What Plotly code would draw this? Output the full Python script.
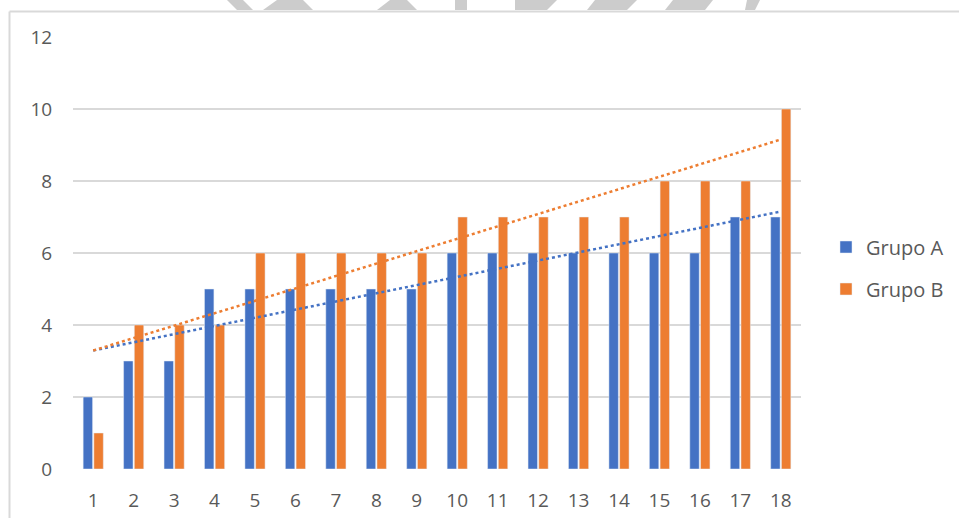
import numpy as np
import plotly.graph_objects as go

categories = list(range(1, 19))
grupo_a = [2, 3, 3, 5, 5, 5, 5, 5, 5, 6, 6, 6, 6, 6, 6, 6, 7, 7]
grupo_b = [1, 4, 4, 4, 6, 6, 6, 6, 6, 7, 7, 7, 7, 7, 8, 8, 8, 10]
y_ticks = [0, 2, 4, 6, 8, 10, 12]

BLUE = "#4472C4"
ORANGE = "#ED7D31"
GRID = "#d9d9d9"
TXT = "#595959"

x = np.array(categories, dtype=float)

fig = go.Figure()
fig.add_trace(go.Bar(x=categories, y=grupo_a, name="Grupo A", marker_color=BLUE,
                     legendgroup="a"))
fig.add_trace(go.Bar(x=categories, y=grupo_b, name="Grupo B", marker_color=ORANGE,
                     legendgroup="b"))

for vals, col in ((grupo_a, BLUE), (grupo_b, ORANGE)):
    m, c = np.polyfit(x, np.array(vals, dtype=float), 1)
    fig.add_trace(go.Scatter(x=[x[0], x[-1]], y=[m * x[0] + c, m * x[-1] + c],
                             mode="lines", line=dict(color=col, width=2.5, dash="dot"),
                             showlegend=False, hoverinfo="skip"))

W, H = 959, 518
L, R, T, B = 73, 801, 37, 469


def px(v):
    return (v - L) / (R - L)


def py(v):
    return (B - v) / (B - T)


shapes = []
# chart frame (left and top borders)
shapes.append(dict(type="line", xref="paper", yref="paper", x0=px(9.5), x1=px(965),
                   y0=py(11.5), y1=py(11.5), line=dict(color=GRID, width=2)))
shapes.append(dict(type="line", xref="paper", yref="paper", x0=px(9.5), x1=px(9.5),
                   y0=py(11.5), y1=py(530), line=dict(color=GRID, width=2)))

# watermark fragments above the frame
wm = [
    [(227, 0), (243, 0), (253, 10), (237, 10)],
    [(277, 0), (303, 0), (313, 10), (263, 10)],
    [(390, 0), (407, 0), (417, 10), (377, 10)],
    [(455, 0), (467, 0), (467, 10), (455, 10)],
    [(515, 0), (557, 0), (547, 10), (515, 10)],
    [(595, 0), (637, 0), (627, 10), (587, 10)],
    [(673, 0), (713, 0), (705, 10), (665, 10)],
    [(747, 0), (760, 0), (755, 10), (745, 10)],
]
for poly in wm:
    path = "M " + " L ".join(f"{px(a):.5f},{py(b):.5f}" for a, b in poly) + " Z"
    shapes.append(dict(type="path", xref="paper", yref="paper", path=path,
                       fillcolor="#cccccc", line=dict(width=0)))

fig.update_layout(
    width=W, height=H,
    margin=dict(l=L, r=W - R, t=T, b=H - B, autoexpand=False),
    paper_bgcolor="white", plot_bgcolor="white",
    barmode="group", bargap=0.47, bargroupgap=0.12,
    font=dict(family="Open Sans, Noto Sans, sans-serif", size=19, color=TXT),
    legend=dict(x=px(826), y=py(268), xanchor="left", yanchor="middle",
                traceorder="grouped", tracegroupgap=13,
                font=dict(size=20, color=TXT), itemwidth=30,
                bgcolor="rgba(0,0,0,0)"),
    shapes=shapes,
    xaxis=dict(range=[0.5, 18.5], tickmode="array", tickvals=categories,
               ticktext=[str(c) for c in categories], showgrid=False,
               zeroline=False, showline=False, ticks="outside", ticklen=14,
               tickcolor="rgba(0,0,0,0)"),
    yaxis=dict(range=[0, 12], tickmode="array", tickvals=y_ticks,
               showgrid=True, gridcolor=GRID, gridwidth=1.5, zeroline=False,
               showline=False, ticks="outside", ticklen=16,
               tickcolor="rgba(0,0,0,0)"),
    showlegend=True,
)

fig.write_html(
    "out.html",
    config={"displayModeBar": False},
    post_script="document.body.style.margin='0';document.body.style.overflow='hidden';",
)
